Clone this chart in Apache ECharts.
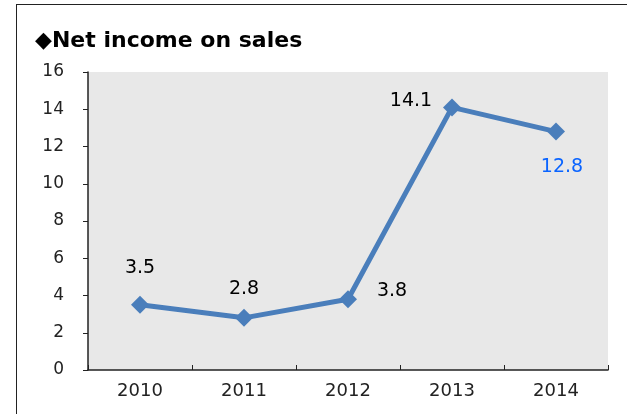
<!DOCTYPE html>
<html>
<head>
<meta charset="utf-8">
<script src="https://cdn.jsdelivr.net/npm/echarts@6/dist/echarts.min.js"></script>
<style>
  html, body { margin: 0; padding: 0; background: #fff; }
  #frame { position: absolute; left: 16px; top: 4px; right: 0; bottom: 0;
           border-left: 1px solid #222; border-top: 1px solid #222; }
  #chart { position: absolute; left: 0; top: 0; width: 627px; height: 414px; }
</style>
</head>
<body>
<div id="frame"></div>
<div id="chart"></div>
<script>
// Net income on sales by fiscal year
const years = ['2010', '2011', '2012', '2013', '2014'];
const netIncomeOnSales = [3.5, 2.8, 3.8, 14.1, 12.8];
const yTicks = { min: 0, max: 16, interval: 2 };

// per-point label placement around each marker
const labelPlacement = [
  { offset: [0, -37], color: '#000' },
  { offset: [0, -29], color: '#000' },
  { offset: [44, -8], color: '#000' },
  { offset: [-41, -6], color: '#000' },
  { offset: [6, 35], color: '#0a64ff' }
];

const chart = echarts.init(document.getElementById('chart'), null, { renderer: 'canvas' });
const FONT = '"DejaVu Sans", "Liberation Sans", sans-serif';

chart.setOption({
  animation: false,
  backgroundColor: 'transparent',
  title: {
    text: '◆Net income on sales',
    left: 30, top: 25,
    textStyle: { fontFamily: FONT, fontWeight: 'bold', fontSize: 22, color: '#000' }
  },
  grid: { left: 88, right: 19, top: 72, bottom: 44, show: true,
          backgroundColor: '#e8e8e8', borderWidth: 0 },
  xAxis: {
    type: 'category', data: years, boundaryGap: true,
    axisLine: { lineStyle: { color: '#222', width: 1.5 } },
    axisTick: { show: true, inside: true, length: 5, lineStyle: { color: '#222' } },
    axisLabel: { fontFamily: FONT, fontSize: 18, color: '#222', margin: 12 },
    splitLine: { show: false }
  },
  yAxis: {
    type: 'value', min: yTicks.min, max: yTicks.max, interval: yTicks.interval,
    axisLine: { show: true, lineStyle: { color: '#222', width: 1.5 } },
    axisTick: { show: true, inside: false, length: 5, lineStyle: { color: '#222' } },
    axisLabel: { fontFamily: FONT, fontSize: 17, color: '#222', margin: 24 },
    splitLine: { show: false }
  },
  series: [{
    type: 'line',
    data: netIncomeOnSales.map((v, i) => ({
      value: v,
      label: {
        show: true, position: 'inside',
        offset: labelPlacement[i].offset,
        color: labelPlacement[i].color
      }
    })),
    symbol: 'diamond', symbolSize: 18,
    lineStyle: { color: '#4a7ebb', width: 5 },
    itemStyle: { color: '#4a7ebb' },
    label: { fontFamily: FONT, fontSize: 19 }
  }]
});
</script>
</body>
</html>
